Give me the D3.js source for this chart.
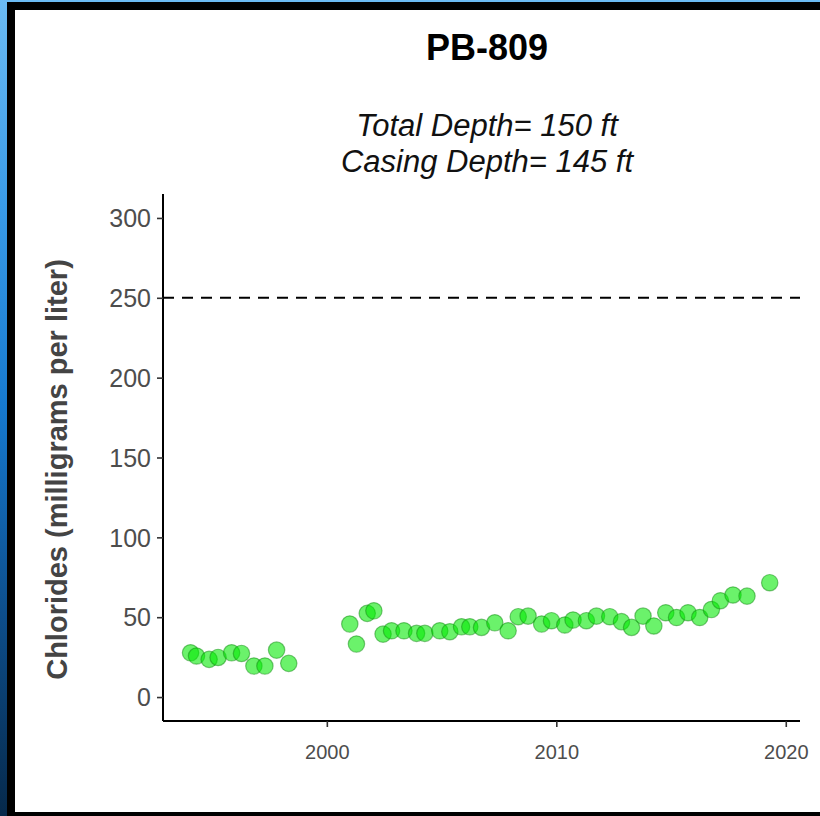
<!DOCTYPE html>
<html>
<head>
<meta charset="utf-8">
<script src="https://cdn.jsdelivr.net/npm/d3@7"></script>
<style>
  html, body { margin: 0; padding: 0; background: #fff; }
  svg { display: block; }
  text { font-family: "Liberation Sans", Arial, sans-serif; }
</style>
</head>
<body>
<svg id="chart" width="820" height="816"></svg>
<script>
// ---- data ----
const years = [1994.06, 1994.32, 1994.87, 1995.26, 1995.85, 1996.28, 1996.82, 1997.30, 1997.81, 1998.34,
  2001.00, 2001.29, 2001.76, 2002.05, 2002.45, 2002.82, 2003.36, 2003.91, 2004.27, 2004.92,
  2005.36, 2005.87, 2006.23, 2006.74, 2007.32, 2007.90, 2008.34, 2008.77, 2009.36, 2009.79,
  2010.37, 2010.73, 2011.31, 2011.75, 2012.33, 2012.84, 2013.28, 2013.78, 2014.25, 2014.77,
  2015.24, 2015.74, 2016.25, 2016.76, 2017.15, 2017.70, 2018.31, 2019.30];
const chlorides = [27.7, 25.7, 23.6, 24.8, 27.7, 27.3, 19.4, 19.4, 29.4, 21.1,
  45.7, 33.2, 52.4, 54.0, 39.4, 41.5, 41.5, 39.9, 39.9, 41.5,
  40.9, 44.0, 44.0, 43.6, 46.5, 41.5, 50.3, 50.7, 45.7, 47.8,
  45.1, 48.2, 47.8, 50.7, 50.3, 47.2, 43.6, 50.7, 44.5, 52.8,
  49.8, 52.8, 49.8, 54.8, 60.3, 63.9, 63.2, 71.6];
const xTicks = [2000, 2010, 2020];
const yTicks = [0, 50, 100, 150, 200, 250, 300];
const threshold = 250;
const titleText = "PB-809";
const subtitleLines = ["Total Depth= 150 ft", "Casing Depth= 145 ft"];
const yLabel = "Chlorides (milligrams per liter)";

const svg = d3.select("#chart");
const W = 820, H = 816;

// ---- frame ----
const defs = svg.append("defs");
const grad = defs.append("linearGradient").attr("id", "bg").attr("x1", 0).attr("y1", 0).attr("x2", 0).attr("y2", 1);
grad.append("stop").attr("offset", "0%").attr("stop-color", "#6cbbf3");
grad.append("stop").attr("offset", "25%").attr("stop-color", "#3a9be8");
grad.append("stop").attr("offset", "50%").attr("stop-color", "#1679cf");
grad.append("stop").attr("offset", "75%").attr("stop-color", "#0d4e8c");
grad.append("stop").attr("offset", "100%").attr("stop-color", "#06294b");
svg.append("rect").attr("width", W).attr("height", H).attr("fill", "url(#bg)");
svg.append("rect").attr("x", 7).attr("y", 2).attr("width", W - 7).attr("height", H - 2).attr("fill", "#000");
svg.append("rect").attr("x", 15).attr("y", 10).attr("width", W - 15).attr("height", 802).attr("fill", "#fff");

// ---- plot panel ----
const panel = { left: 163, right: 800, top: 194, bottom: 721 };
const x = d3.scaleLinear().domain([1992.86, 2020.62]).range([panel.left, panel.right]);
const y = d3.scaleLinear().domain([-15, 315]).range([panel.bottom, panel.top]);

// axes
const xAxis = d3.axisBottom(x).tickValues(xTicks).tickFormat(d3.format("d")).tickSize(6).tickPadding(18);
const yAxis = d3.axisLeft(y).tickValues(yTicks).tickFormat(d3.format("d")).tickSize(6).tickPadding(6);

const gx = svg.append("g").attr("transform", `translate(0,${panel.bottom})`).call(xAxis);
const gy = svg.append("g").attr("transform", `translate(${panel.left},0)`).call(yAxis);
[gx, gy].forEach(g => {
  g.select(".domain").attr("stroke", "#000").attr("stroke-width", 2);
  g.selectAll(".tick line").attr("stroke", "#333").attr("stroke-width", 1.6);
  g.selectAll(".tick text").attr("fill", "#4d4d4d").style("font-family", "Liberation Sans, Arial, sans-serif");
});
gx.select(".domain").attr("d", `M${panel.left},0H${panel.right}`);
gy.select(".domain").attr("d", `M0,${panel.top}V${panel.bottom}`);
gx.selectAll(".tick text").attr("font-size", 20);
gy.selectAll(".tick text").attr("font-size", 25).attr("dy", "0.35em");

// threshold dashed line
svg.append("line")
  .attr("x1", panel.left).attr("x2", panel.right)
  .attr("y1", y(threshold)).attr("y2", y(threshold))
  .attr("stroke", "#000").attr("stroke-width", 2)
  .attr("stroke-dasharray", "11,8");

// points
svg.append("g").selectAll("circle")
  .data(years.map((yr, i) => ({ yr, v: chlorides[i] })))
  .join("circle")
  .attr("cx", d => x(d.yr)).attr("cy", d => y(d.v)).attr("r", 8.2)
  .attr("fill", "rgb(0,232,0)").attr("fill-opacity", 0.58)
  .attr("stroke", "rgb(20,140,20)").attr("stroke-opacity", 0.5).attr("stroke-width", 1.2);

// titles
const cx = 487;
svg.append("text").attr("x", cx).attr("y", 60).attr("text-anchor", "middle")
  .attr("font-size", 36).attr("font-weight", "bold").attr("fill", "#000").text(titleText);
svg.append("text").attr("x", cx).attr("y", 136).attr("text-anchor", "middle")
  .attr("font-size", 31).attr("font-style", "italic").attr("fill", "#111").text(subtitleLines[0]);
svg.append("text").attr("x", cx).attr("y", 172).attr("text-anchor", "middle")
  .attr("font-size", 31).attr("font-style", "italic").attr("fill", "#111").text(subtitleLines[1]);

svg.append("text")
  .attr("transform", `translate(67,${(panel.top + panel.bottom) / 2 + 12}) rotate(-90)`)
  .attr("text-anchor", "middle")
  .attr("font-size", 29).attr("font-weight", "bold").attr("fill", "#444").text(yLabel);
</script>
</body>
</html>
